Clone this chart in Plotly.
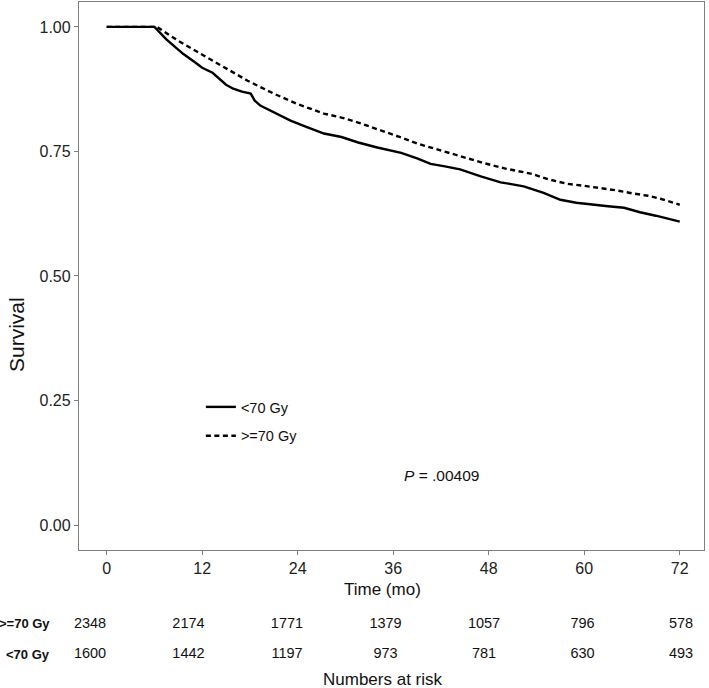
import plotly.graph_objects as go

# ---- data ----
time_lt70 = [0, 6.0, 7.5, 9.6, 11.0, 12.0, 13.3, 13.9, 15.0, 15.9, 17.0, 18.1, 18.6, 19.3,
             21.0, 23.1, 25.0, 27.3, 29.5, 31.6, 34.0, 37.0, 39.0, 40.7, 42.5, 44.4,
             47.0, 49.5, 51.0, 52.4, 54.9, 57.0, 59.0, 61.0, 63.0, 65.0, 67.0, 69.0, 72.0]
surv_lt70 = [1.0, 1.0, 0.975, 0.946, 0.930, 0.918, 0.908, 0.900, 0.884, 0.876, 0.870, 0.866,
             0.852, 0.842, 0.828, 0.812, 0.800, 0.786, 0.779, 0.768, 0.758, 0.747, 0.736,
             0.725, 0.720, 0.714, 0.700, 0.688, 0.684, 0.680, 0.667, 0.653, 0.647, 0.643,
             0.640, 0.637, 0.628, 0.621, 0.609]

time_ge70 = [0, 6.3, 9.0, 11.8, 14.5, 17.7, 21.0, 24.0, 27.3, 29.5, 31.6, 34.0, 37.0, 39.0,
             42.0, 45.0, 47.3, 50.0, 53.4, 55.5, 57.9, 60.0, 62.0, 64.0, 66.0, 68.0, 69.6, 72.0]
surv_ge70 = [1.0, 1.0, 0.972, 0.946, 0.920, 0.892, 0.866, 0.845, 0.826, 0.818, 0.808, 0.795,
             0.778, 0.766, 0.752, 0.738, 0.727, 0.716, 0.705, 0.694, 0.685, 0.681, 0.677,
             0.672, 0.666, 0.661, 0.655, 0.643]

risk_times = [0, 12, 24, 36, 48, 60, 72]
risk_ge70 = [2348, 2174, 1771, 1379, 1057, 796, 578]
risk_lt70 = [1600, 1442, 1197, 973, 781, 630, 493]

x_ticks = [0, 12, 24, 36, 48, 60, 72]
y_ticks = [0.0, 0.25, 0.50, 0.75, 1.00]
y_tick_labels = ["0.00", "0.25", "0.50", "0.75", "1.00"]

FONT = "Liberation Sans, Arial, Helvetica, sans-serif"
FRAME = "#7f7f7f"

fig = go.Figure()

fig.add_trace(go.Scatter(
    x=time_lt70, y=surv_lt70, mode="lines", name="<70 Gy",
    line=dict(color="black", width=2.4), legendgroup="a",
    xaxis="x", yaxis="y"))
fig.add_trace(go.Scatter(
    x=time_ge70, y=surv_ge70, mode="lines", name=">=70 Gy",
    line=dict(color="black", width=2.4, dash="5px,3.5px"), legendgroup="b",
    xaxis="x", yaxis="y"))

# risk table rows
fig.add_trace(go.Scatter(
    x=risk_times, y=[2] * len(risk_times), mode="text",
    text=[str(v) for v in risk_ge70], textposition="middle center",
    textfont=dict(family=FONT, size=14.5, color="#111"), cliponaxis=False,
    showlegend=False, hoverinfo="skip", xaxis="x2", yaxis="y2"))
fig.add_trace(go.Scatter(
    x=risk_times, y=[1] * len(risk_times), mode="text",
    text=[str(v) for v in risk_lt70], textposition="middle center",
    textfont=dict(family=FONT, size=14.5, color="#111"), cliponaxis=False,
    showlegend=False, hoverinfo="skip", xaxis="x2", yaxis="y2"))

lbl_x = (52 - 79) / 625.0

fig.update_layout(
    width=709, height=688,
    margin=dict(l=79, r=5, t=2, b=0),
    paper_bgcolor="white", plot_bgcolor="white",
    font=dict(family=FONT, color="#222"),
    xaxis=dict(
        domain=[0, 1], range=[-3.48, 75.05], anchor="y",
        tickmode="array", tickvals=x_ticks, ticktext=[str(t) for t in x_ticks],
        ticks="outside", ticklen=4, tickwidth=1.2, tickcolor=FRAME,
        tickfont=dict(size=16, color="#222"),
        showline=True, linecolor=FRAME, linewidth=1.3, mirror=True,
        showgrid=False, zeroline=False),
    yaxis=dict(
        domain=[0.2012, 1], range=[-0.05, 1.05], anchor="x",
        tickmode="array", tickvals=y_ticks, ticktext=y_tick_labels,
        ticks="outside", ticklen=4, tickwidth=1.2, tickcolor=FRAME,
        tickfont=dict(size=16, color="#222"),
        showline=True, linecolor=FRAME, linewidth=1.3, mirror=True,
        showgrid=False, zeroline=False),
    xaxis2=dict(domain=[0, 1], range=[-1.34, 74.8], anchor="y2", visible=False),
    yaxis2=dict(domain=[0, 0.19], range=[-0.133, 4.21], anchor="x2", visible=False),
    showlegend=True,
    legend=dict(
        x=0.195, y=0.433, xanchor="left", yanchor="top",
        bgcolor="rgba(0,0,0,0)", font=dict(size=14.5, color="#111"),
        traceorder="grouped", tracegroupgap=7, itemwidth=30),
    annotations=[
        dict(text="Survival", x=-0.0992, y=0.5146, xref="paper", yref="paper",
             textangle=-90, showarrow=False, font=dict(size=21, color="#111"),
             xanchor="center", yanchor="middle"),
        dict(text="Time (mo)", x=0.4848, y=0.1429, xref="paper", yref="paper",
             showarrow=False, font=dict(size=17, color="#111"),
             xanchor="center", yanchor="middle"),
        dict(text="Numbers at risk", x=0.4864, y=0.0131, xref="paper", yref="paper",
             showarrow=False, font=dict(size=17, color="#111"),
             xanchor="center", yanchor="middle"),
        dict(text="<i>P</i> = .00409", x=42.1, y=0.10, xref="x", yref="y",
             showarrow=False, font=dict(size=15.5, color="#111"),
             xanchor="center", yanchor="middle"),
        dict(text="<b>>=70 Gy</b>", x=lbl_x, y=2, xref="paper", yref="y2",
             showarrow=False, font=dict(size=13, color="#111"),
             xanchor="right", yanchor="middle"),
        dict(text="<b><70 Gy</b>", x=lbl_x, y=1, xref="paper", yref="y2",
             showarrow=False, font=dict(size=13, color="#111"),
             xanchor="right", yanchor="middle"),
    ],
)

# remove the browser's default 8px body margin so the figure sits at the page origin
fig.write_html("out.html", config={"displayModeBar": False},
               post_script="document.body.style.margin='0';")
